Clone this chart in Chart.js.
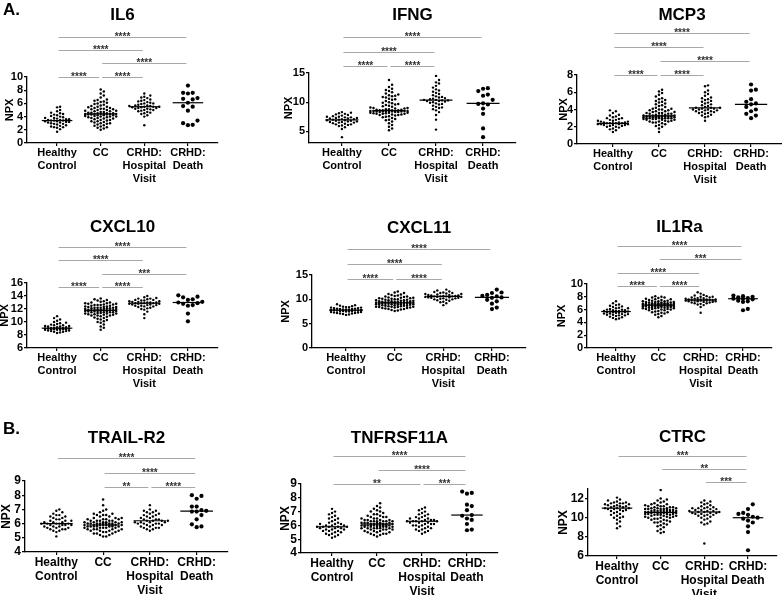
<!DOCTYPE html>
<html>
<head>
<meta charset="utf-8">
<script src="https://cdn.jsdelivr.net/npm/chart.js@4.4.1/dist/chart.umd.min.js"></script>
<style>
  body { margin: 0; background: #fff; }
  #fig { position: relative; width: 782px; height: 595px; overflow: hidden; background: #fff; }
  .tag { position: absolute; z-index: 2; font: bold 17px 'Liberation Sans', Arial, sans-serif; line-height: 20px; color: #000; }
</style>
</head>
<body>
<div id="fig">
  <div class="tag" style="left:3px;top:0px">A.</div>
  <div class="tag" style="left:3px;top:419px">B.</div>
</div>
<script>
const FONT = "'Liberation Sans', Arial, sans-serif";

// Groups on the x axis
const groupLabels = [['Healthy', 'Control'], ['CC'], ['CRHD:', 'Hospital', 'Visit'], ['CRHD:', 'Death']];

// IL6
const il6Ticks = [0, 2, 4, 6, 8, 10];
const il6Healthy = [1.7, 2.1, 2.3, 2.4, 2.4, 2.5, 2.6, 2.7, 2.8, 2.9, 2.9, 3.0, 3.1, 3.1, 3.2, 3.2, 3.3, 3.3, 3.4, 3.4, 3.4, 3.5, 3.5, 3.6, 3.6, 3.7, 3.8, 3.8, 3.9, 4.0, 4.1, 4.2, 4.3, 4.4, 4.5, 4.6, 4.8, 5.0, 5.4, 5.5];
const il6CC = [2.0, 2.2, 2.4, 2.5, 2.6, 2.7, 2.8, 2.9, 3.0, 3.0, 3.1, 3.2, 3.3, 3.4, 3.5, 3.5, 3.6, 3.7, 3.7, 3.8, 3.8, 3.9, 3.9, 4.0, 4.0, 4.0, 4.1, 4.1, 4.2, 4.2, 4.2, 4.3, 4.3, 4.3, 4.4, 4.4, 4.4, 4.4, 4.4, 4.4, 4.5, 4.5, 4.5, 4.6, 4.6, 4.7, 4.7, 4.8, 4.8, 4.9, 4.9, 5.0, 5.0, 5.1, 5.1, 5.2, 5.2, 5.3, 5.3, 5.4, 5.5, 5.5, 5.6, 5.7, 5.8, 5.9, 6.0, 6.1, 6.2, 6.3, 6.4, 6.5, 6.6, 6.9, 7.2, 7.5, 7.8, 8.1, 2.3, 3.3];
const il6Hosp = [2.7, 4.0, 4.2, 4.4, 4.5, 4.6, 4.7, 4.8, 4.9, 5.0, 5.0, 5.1, 5.2, 5.2, 5.3, 5.3, 5.4, 5.4, 5.5, 5.5, 5.5, 5.6, 5.6, 5.7, 5.7, 5.8, 5.9, 6.0, 6.0, 6.1, 6.2, 6.3, 6.4, 6.5, 6.6, 6.8, 6.9, 7.0, 7.2, 7.5];
const il6Death = [8.7, 7.6, 7.5, 7.6, 6.8, 6.6, 6.7, 6.1, 5.6, 5.5, 4.9, 3.4, 3.0, 2.7, 2.75];
const il6Sig = [[1, 2, '****', 0], [2, 3, '****', 0], [2, 4, '****', 1], [1, 3, '****', 2], [1, 4, '****', 3]];

// IFNG
const ifngTicks = [5, 10, 15];
const ifngHealthy = [4.0, 5.4, 5.7, 5.9, 6.0, 6.1, 6.2, 6.3, 6.4, 6.5, 6.5, 6.6, 6.6, 6.7, 6.7, 6.8, 6.8, 6.9, 6.9, 7.0, 7.0, 7.1, 7.1, 7.2, 7.2, 7.3, 7.3, 7.4, 7.5, 7.5, 7.6, 7.7, 7.8, 7.9, 8.0, 8.1, 8.2, 8.3, 6.2, 7.4];
const ifngCC = [5.2, 5.5, 5.8, 6.1, 6.4, 6.7, 6.9, 7.1, 7.3, 7.4, 7.5, 7.6, 7.7, 7.8, 7.8, 7.9, 7.9, 8.0, 8.0, 8.1, 8.1, 8.2, 8.2, 8.2, 8.3, 8.3, 8.3, 8.4, 8.4, 8.4, 8.4, 8.5, 8.5, 8.5, 8.5, 8.5, 8.5, 8.5, 8.6, 8.6, 8.6, 8.6, 8.7, 8.7, 8.8, 8.8, 8.9, 8.9, 9.0, 9.1, 9.2, 9.3, 9.4, 9.5, 9.6, 9.7, 9.8, 9.9, 10.0, 10.2, 10.4, 10.6, 10.8, 10.9, 11.0, 11.1, 11.2, 11.3, 11.5, 11.7, 11.9, 12.1, 12.3, 12.6, 13.0, 13.8, 7.0, 8.0, 9.0, 10.5];
const ifngHosp = [5.3, 7.0, 7.8, 8.3, 8.6, 8.8, 9.0, 9.2, 9.4, 9.6, 9.7, 9.8, 9.9, 10.0, 10.1, 10.2, 10.2, 10.3, 10.3, 10.4, 10.4, 10.5, 10.6, 10.7, 10.8, 10.9, 11.0, 11.2, 11.4, 11.6, 11.8, 12.0, 12.2, 12.5, 12.8, 13.2, 13.4, 13.8, 14.5, 9.1];
const ifngDeath = [12.4, 12.3, 11.9, 11.3, 11.1, 10.4, 9.8, 9.7, 9.6, 8.9, 8.0, 5.5, 4.0];
const ifngSig = [[1, 2, '****', 0], [2, 3, '****', 0], [1, 3, '****', 1], [1, 4, '****', 2]];

// MCP3
const mcp3Ticks = [0, 2, 4, 6, 8];
const mcp3Healthy = [1.4, 1.6, 1.7, 1.8, 1.9, 2.0, 2.0, 2.1, 2.1, 2.2, 2.2, 2.2, 2.3, 2.3, 2.3, 2.3, 2.4, 2.4, 2.4, 2.4, 2.4, 2.5, 2.5, 2.5, 2.6, 2.6, 2.7, 2.7, 2.8, 2.8, 2.9, 3.0, 3.0, 3.1, 3.2, 3.3, 3.4, 3.6, 3.8, 3.9];
const mcp3CC = [1.4, 1.8, 2.0, 2.2, 2.3, 2.4, 2.5, 2.5, 2.6, 2.6, 2.7, 2.7, 2.8, 2.8, 2.8, 2.9, 2.9, 2.9, 3.0, 3.0, 3.0, 3.0, 3.1, 3.1, 3.1, 3.1, 3.1, 3.2, 3.2, 3.2, 3.2, 3.2, 3.2, 3.2, 3.2, 3.3, 3.3, 3.3, 3.3, 3.3, 3.4, 3.4, 3.0, 3.0, 3.5, 3.5, 3.5, 3.6, 3.6, 3.6, 3.7, 3.7, 3.8, 3.8, 3.9, 3.9, 4.0, 4.0, 4.1, 4.1, 4.2, 4.3, 4.4, 4.5, 4.6, 4.7, 4.8, 4.9, 5.0, 5.1, 5.2, 5.3, 5.5, 5.7, 5.9, 6.1, 6.3, 2.1, 2.6, 3.0];
const mcp3Hosp = [2.7, 3.2, 3.3, 3.4, 3.5, 3.6, 3.6, 3.7, 3.7, 3.8, 3.8, 3.9, 3.9, 4.0, 4.0, 4.0, 4.1, 4.1, 4.2, 4.2, 4.2, 4.3, 4.4, 4.5, 4.6, 4.7, 4.8, 4.9, 5.0, 5.1, 5.2, 5.3, 5.4, 5.6, 5.8, 6.0, 6.2, 6.7, 6.8, 3.1];
const mcp3Death = [6.9, 6.3, 6.2, 5.2, 4.9, 4.7, 4.6, 4.3, 4.0, 3.8, 3.5, 3.3, 3.0];
const mcp3Sig = [[1, 2, '****', 0], [2, 3, '****', 0], [2, 4, '****', 1], [1, 3, '****', 2], [1, 4, '****', 3]];

// CXCL10
const cxcl10Ticks = [6, 8, 10, 12, 14, 16];
const cxcl10Healthy = [8.3, 8.4, 8.5, 8.5, 8.6, 8.6, 8.7, 8.7, 8.8, 8.8, 8.8, 8.9, 8.9, 8.9, 8.9, 9.0, 9.0, 9.0, 9.0, 9.0, 9.1, 9.1, 9.1, 9.2, 9.2, 9.3, 9.3, 9.4, 9.4, 9.5, 9.6, 9.7, 9.8, 9.9, 10.0, 10.2, 10.4, 10.6, 10.9, 9.5];
const cxcl10CC = [8.8, 9.3, 9.6, 9.9, 10.1, 10.3, 10.5, 10.6, 10.7, 10.8, 10.9, 11.0, 11.0, 11.1, 11.1, 11.2, 11.2, 11.3, 11.3, 11.4, 11.4, 11.5, 11.5, 11.5, 11.6, 11.6, 11.6, 11.7, 11.7, 11.7, 11.7, 11.8, 11.8, 11.8, 11.8, 11.8, 11.9, 11.9, 11.9, 12.0, 12.0, 12.0, 12.1, 12.1, 12.1, 12.2, 12.2, 12.2, 12.3, 12.3, 12.3, 12.4, 12.4, 12.5, 12.5, 12.6, 12.6, 12.7, 12.7, 12.8, 12.8, 12.9, 12.9, 13.0, 13.0, 13.1, 13.2, 13.3, 13.4, 13.6, 9.1, 10.0, 10.4, 11.0, 11.3, 11.9, 12.2, 12.6, 13.5, 11.5];
const cxcl10Hosp = [10.6, 11.6, 11.9, 12.1, 12.2, 12.3, 12.4, 12.5, 12.5, 12.6, 12.6, 12.7, 12.7, 12.8, 12.8, 12.8, 12.9, 12.9, 12.9, 12.9, 13.0, 13.0, 13.0, 13.1, 13.1, 13.2, 13.2, 13.3, 13.3, 13.4, 13.4, 13.5, 13.6, 13.7, 13.8, 14.0, 12.0, 12.4, 13.6, 11.2];
const cxcl10Death = [14.1, 13.9, 13.8, 13.5, 13.4, 13.1, 13.0, 12.9, 12.8, 12.6, 12.5, 11.3, 10.1];
const cxcl10Sig = [[1, 2, '****', 0], [2, 3, '****', 0], [2, 4, '***', 1], [1, 3, '****', 2], [1, 4, '****', 3]];

// CXCL11
const cxcl11Ticks = [0, 5, 10, 15];
const cxcl11Healthy = [6.8, 6.9, 7.0, 7.1, 7.1, 7.2, 7.3, 7.3, 7.4, 7.4, 7.5, 7.5, 7.6, 7.6, 7.6, 7.7, 7.7, 7.7, 7.8, 7.8, 7.8, 7.9, 7.9, 8.0, 8.0, 8.1, 8.1, 8.2, 8.2, 8.3, 8.3, 8.4, 8.5, 8.6, 8.7, 8.8, 9.0, 7.2, 7.9, 8.4];
const cxcl11CC = [7.6, 7.7, 7.8, 7.9, 8.0, 8.1, 8.2, 8.3, 8.3, 8.4, 8.4, 8.5, 8.5, 8.6, 8.6, 8.7, 8.7, 8.8, 8.8, 8.9, 8.9, 8.9, 9.0, 9.0, 9.0, 9.1, 9.1, 9.1, 9.1, 9.2, 9.2, 9.2, 9.2, 9.2, 9.3, 9.3, 9.3, 9.3, 9.4, 9.4, 9.4, 9.5, 9.5, 9.5, 9.6, 9.6, 9.6, 9.7, 9.7, 9.8, 9.8, 9.9, 9.9, 10.0, 10.0, 10.1, 10.1, 10.2, 10.2, 10.3, 10.4, 10.5, 10.6, 10.7, 10.8, 10.9, 11.0, 11.1, 11.3, 11.6, 8.0, 8.2, 8.5, 8.7, 9.0, 9.4, 9.8, 10.3, 10.6, 11.4];
const cxcl11Hosp = [8.8, 9.2, 9.5, 9.7, 9.8, 9.9, 10.0, 10.1, 10.2, 10.2, 10.3, 10.3, 10.4, 10.4, 10.5, 10.5, 10.5, 10.6, 10.6, 10.6, 10.6, 10.7, 10.7, 10.8, 10.8, 10.9, 10.9, 11.0, 11.1, 11.1, 11.2, 11.3, 11.4, 11.5, 11.6, 11.8, 12.0, 9.4, 10.0, 11.3];
const cxcl11Death = [12.0, 11.4, 11.3, 10.9, 10.7, 10.6, 10.4, 10.3, 9.9, 9.6, 9.1, 8.3, 8.0];
const cxcl11Sig = [[1, 2, '****', 0], [2, 3, '****', 0], [1, 3, '****', 1], [1, 4, '****', 2]];

// IL1Ra
const il1raTicks = [0, 2, 4, 6, 8, 10];
const il1raHealthy = [4.5, 4.6, 4.7, 4.8, 4.9, 5.0, 5.1, 5.2, 5.2, 5.3, 5.3, 5.4, 5.4, 5.5, 5.5, 5.6, 5.6, 5.6, 5.7, 5.7, 5.7, 5.8, 5.8, 5.9, 5.9, 6.0, 6.0, 6.1, 6.2, 6.3, 6.4, 6.5, 6.6, 6.7, 6.8, 7.0, 7.3, 5.1, 6.2, 5.8];
const il1raCC = [4.8, 5.0, 5.2, 5.4, 5.5, 5.6, 5.7, 5.8, 5.9, 6.0, 6.0, 6.1, 6.1, 6.2, 6.2, 6.3, 6.3, 6.3, 6.4, 6.4, 6.4, 6.5, 6.5, 6.5, 6.5, 6.6, 6.6, 6.6, 6.6, 6.6, 6.7, 6.7, 6.7, 6.7, 6.7, 6.7, 6.8, 6.8, 6.8, 6.8, 6.8, 6.9, 6.9, 6.9, 6.9, 7.0, 7.0, 7.0, 7.1, 7.1, 7.1, 7.2, 7.2, 7.3, 7.3, 7.4, 7.4, 7.5, 7.5, 7.6, 7.7, 7.8, 7.9, 8.0, 8.1, 5.3, 5.6, 5.9, 6.2, 6.4, 6.6, 6.8, 7.0, 7.2, 7.6, 6.1, 6.5, 6.9, 7.3, 7.9];
const il1raHosp = [5.5, 6.4, 6.7, 6.9, 7.0, 7.1, 7.1, 7.2, 7.2, 7.3, 7.3, 7.3, 7.4, 7.4, 7.4, 7.4, 7.5, 7.5, 7.5, 7.5, 7.5, 7.6, 7.6, 7.6, 7.7, 7.7, 7.8, 7.8, 7.9, 7.9, 8.0, 8.1, 8.2, 8.3, 8.5, 8.7, 6.8, 7.0, 7.6, 8.0];
const il1raDeath = [8.2, 8.1, 8.0, 7.9, 7.8, 7.7, 7.7, 7.6, 7.4, 7.3, 7.2, 6.1, 5.9];
const il1raSig = [[1, 2, '****', 0], [2, 3, '****', 0], [1, 3, '****', 1], [2, 4, '***', 2], [1, 4, '****', 3]];

// TRAIL-R2
const trailTicks = [4, 5, 6, 7, 8, 9];
const trailHealthy = [5.1, 5.4, 5.5, 5.5, 5.6, 5.6, 5.7, 5.7, 5.7, 5.8, 5.8, 5.8, 5.9, 5.9, 5.9, 5.9, 6.0, 6.0, 6.0, 6.0, 6.0, 6.1, 6.1, 6.1, 6.2, 6.2, 6.3, 6.3, 6.4, 6.4, 6.5, 6.5, 6.6, 6.6, 6.7, 6.8, 6.9, 7.0, 5.6, 6.2];
const trailCC = [5.1, 5.1, 5.2, 5.2, 5.3, 5.3, 5.4, 5.4, 5.5, 5.5, 5.5, 5.6, 5.6, 5.6, 5.7, 5.7, 5.7, 5.7, 5.8, 5.8, 5.8, 5.8, 5.8, 5.9, 5.9, 5.9, 5.9, 5.9, 5.9, 5.9, 5.9, 6.0, 6.0, 6.0, 6.0, 6.0, 6.0, 6.0, 6.1, 6.1, 6.1, 6.1, 6.1, 6.2, 6.2, 6.2, 6.2, 6.3, 6.3, 6.3, 6.4, 6.4, 6.5, 6.5, 6.6, 6.6, 6.7, 6.7, 6.8, 6.9, 7.0, 7.3, 7.7, 5.4, 5.6, 5.8, 6.0, 6.2, 6.4, 5.5, 5.7, 5.9, 6.1, 6.3, 6.6, 5.6, 5.8, 6.0, 5.3, 5.9];
const trailHosp = [5.5, 5.6, 5.6, 5.7, 5.7, 5.8, 5.8, 5.9, 5.9, 5.9, 6.0, 6.0, 6.0, 6.1, 6.1, 6.1, 6.1, 6.2, 6.2, 6.2, 6.2, 6.3, 6.3, 6.3, 6.4, 6.4, 6.5, 6.5, 6.6, 6.6, 6.7, 6.7, 6.8, 6.8, 6.9, 6.9, 7.0, 7.3, 6.0, 5.7];
const trailDeath = [8.0, 7.95, 7.75, 7.2, 7.2, 6.95, 6.9, 6.85, 6.85, 6.6, 6.3, 5.95, 5.8, 5.75];
const trailSig = [[2, 3, '**', 0], [3, 4, '****', 0], [2, 4, '****', 1], [1, 4, '****', 2]];

// TNFRSF11A
const tnfTicks = [4, 5, 6, 7, 8, 9];
const tnfHealthy = [5.1, 5.2, 5.3, 5.4, 5.4, 5.5, 5.5, 5.6, 5.6, 5.7, 5.7, 5.7, 5.8, 5.8, 5.8, 5.9, 5.9, 5.9, 5.9, 5.9, 6.0, 6.0, 6.0, 6.1, 6.1, 6.2, 6.2, 6.3, 6.4, 6.5, 6.6, 6.7, 6.8, 6.9, 7.0, 7.2, 5.6, 6.1, 6.5, 5.3];
const tnfCC = [5.2, 5.3, 5.3, 5.4, 5.4, 5.5, 5.5, 5.6, 5.6, 5.7, 5.7, 5.7, 5.8, 5.8, 5.8, 5.8, 5.9, 5.9, 5.9, 5.9, 5.9, 6.0, 6.0, 6.0, 6.0, 6.0, 6.0, 6.0, 6.1, 6.1, 6.1, 6.1, 6.1, 6.2, 6.2, 6.2, 6.2, 6.3, 6.3, 6.3, 6.3, 6.4, 6.4, 6.4, 6.5, 6.5, 6.6, 6.6, 6.7, 6.7, 6.8, 6.9, 7.0, 7.1, 7.2, 7.4, 7.6, 5.5, 5.7, 5.9, 6.1, 6.3, 6.5, 6.0, 5.8, 6.2, 6.4, 6.8, 7.0, 5.6, 5.4, 6.0, 6.1, 6.3, 6.6, 5.9, 6.2, 7.3, 5.8, 6.0];
const tnfHosp = [5.4, 5.5, 5.6, 5.7, 5.7, 5.8, 5.8, 5.9, 5.9, 6.0, 6.0, 6.1, 6.1, 6.1, 6.2, 6.2, 6.2, 6.3, 6.3, 6.3, 6.3, 6.4, 6.4, 6.4, 6.5, 6.5, 6.6, 6.6, 6.7, 6.8, 6.9, 7.0, 7.1, 7.2, 7.3, 6.0, 6.5, 5.6, 6.8, 6.3];
const tnfDeath = [8.45, 8.35, 8.3, 7.5, 7.4, 7.1, 6.75, 6.7, 6.5, 6.4, 6.1, 5.7, 5.65];
const tnfSig = [[1, 3, '**', 0], [3, 4, '***', 0], [2, 4, '****', 1], [1, 4, '****', 2]];

// CTRC
const ctrcTicks = [6, 8, 10, 12];
const ctrcHealthy = [8.9, 9.1, 9.4, 9.6, 9.8, 10.0, 10.1, 10.2, 10.3, 10.4, 10.5, 10.6, 10.7, 10.7, 10.8, 10.8, 10.9, 10.9, 11.0, 11.0, 11.0, 11.1, 11.1, 11.2, 11.2, 11.3, 11.3, 11.4, 11.4, 11.5, 11.5, 11.6, 11.6, 11.7, 11.8, 11.9, 12.1, 10.0, 11.2, 11.5];
const ctrcCC = [8.4, 8.6, 8.8, 9.0, 9.2, 9.3, 9.4, 9.5, 9.6, 9.7, 9.8, 9.9, 9.9, 10.0, 10.0, 10.1, 10.1, 10.2, 10.2, 10.3, 10.3, 10.3, 10.4, 10.4, 10.4, 10.5, 10.5, 10.5, 10.5, 10.6, 10.6, 10.6, 10.6, 10.6, 10.7, 10.7, 10.7, 10.7, 10.8, 10.8, 10.8, 10.9, 10.9, 10.9, 11.0, 11.0, 11.0, 11.1, 11.1, 11.2, 11.2, 11.3, 11.3, 11.4, 11.4, 11.5, 11.6, 11.7, 11.8, 11.9, 12.0, 12.9, 8.5, 9.1, 9.6, 10.0, 10.2, 10.4, 10.6, 10.8, 11.0, 11.2, 9.8, 10.3, 10.5, 10.7, 10.9, 11.1, 9.5, 10.1];
const ctrcHosp = [7.3, 9.3, 9.4, 9.6, 9.8, 9.9, 10.0, 10.1, 10.2, 10.3, 10.3, 10.4, 10.4, 10.5, 10.5, 10.6, 10.6, 10.6, 10.7, 10.7, 10.7, 10.8, 10.8, 10.9, 10.9, 11.0, 11.0, 11.1, 11.1, 11.2, 11.3, 11.4, 11.5, 11.6, 11.7, 11.8, 10.2, 10.5, 11.0, 9.5];
const ctrcDeath = [11.4, 10.9, 10.5, 10.4, 10.3, 10.1, 10.0, 9.9, 9.7, 9.5, 9.1, 8.5, 6.6];
const ctrcSig = [[3, 4, '***', 0], [2, 4, '**', 1], [1, 4, '***', 2]];

// panel placement (page pixels)
const panels = [
  { title: 'IL6', groups: [il6Healthy, il6CC, il6Hosp, il6Death], ticks: il6Ticks, min: 0, max: 10, sig: il6Sig,
    left: 0, titleY: 15, aL: 27, aR: 218, aT: 77, aB: 143, pad: 0.69, npxX: 10, levels: [77, 63, 50, 37] },
  { title: 'IFNG', groups: [ifngHealthy, ifngCC, ifngHosp, ifngDeath], ticks: ifngTicks, min: 3, max: 15, sig: ifngSig,
    left: 260, titleY: 15, aL: 309, aR: 516, aT: 73, aB: 143, pad: 0.70, npxX: 289, levels: [66, 52, 37] },
  { title: 'MCP3', groups: [mcp3Healthy, mcp3CC, mcp3Hosp, mcp3Death], ticks: mcp3Ticks, min: 0, max: 8, sig: mcp3Sig,
    left: 520, titleY: 15, aL: 577, aR: 787, aT: 75, aB: 144, pad: 0.78, npxX: 564, levels: [75, 61, 47, 33] },
  { title: 'CXCL10', groups: [cxcl10Healthy, cxcl10CC, cxcl10Hosp, cxcl10Death], ticks: cxcl10Ticks, min: 6, max: 16, sig: cxcl10Sig,
    left: 0, titleY: 227, aL: 27, aR: 218, aT: 283, aB: 348, pad: 0.69, npxX: 5, levels: [287, 274, 260, 247] },
  { title: 'CXCL11', groups: [cxcl11Healthy, cxcl11CC, cxcl11Hosp, cxcl11Death], ticks: cxcl11Ticks, min: 0, max: 15, sig: cxcl11Sig,
    left: 260, titleY: 228, aL: 312, aR: 526, aT: 275, aB: 348, pad: 0.70, npxX: 286, levels: [279, 264, 249] },
  { title: 'IL1Ra', groups: [il1raHealthy, il1raCC, il1raHosp, il1raDeath], ticks: il1raTicks, min: 0, max: 10, sig: il1raSig,
    left: 520, titleY: 227, aL: 587, aR: 772, aT: 284, aB: 348, pad: 0.685, npxX: 562, levels: [286, 273, 259, 246] },
  { title: 'TRAIL-R2', groups: [trailHealthy, trailCC, trailHosp, trailDeath], ticks: trailTicks, min: 4, max: 9, sig: trailSig,
    left: 0, titleY: 438, aL: 25, aR: 228, aT: 481, aB: 552, pad: 0.67, npxX: 7, levels: [487, 473, 458], big: true },
  { title: 'TNFRSF11A', groups: [tnfHealthy, tnfCC, tnfHosp, tnfDeath], ticks: tnfTicks, min: 4, max: 9, sig: tnfSig,
    left: 260, titleY: 438, aL: 301, aR: 498, aT: 484, aB: 553, pad: 0.69, npxX: 286, levels: [484, 470, 456], big: true },
  { title: 'CTRC', groups: [ctrcHealthy, ctrcCC, ctrcHosp, ctrcDeath], ticks: ctrcTicks, min: 6, max: 13, sig: ctrcSig,
    left: 520, titleY: 437, aL: 588, aR: 777, aT: 489, aB: 556, pad: 0.664, npxX: 564, levels: [482, 469, 456], big: true }
];

Chart.defaults.font.family = FONT;
Chart.defaults.color = '#000';

function median(a) {
  const s = [...a].sort((p, q) => p - q);
  const m = s.length >> 1;
  return s.length % 2 ? s[m] : (s[m - 1] + s[m]) / 2;
}

// spread points sideways (pixel space), kept within a max half-width;
// when no free slot is left the least crowded one is used
function swarm(chart, g, values, r, halfWidth) {
  const xs = chart.scales.x, ys = chart.scales.y;
  const unit = xs.getPixelForValue(2) - xs.getPixelForValue(1);
  const step = r * 2 + 0.6;
  const slots = Math.floor(halfWidth * unit / step);
  const placed = [];
  const out = new Array(values.length);
  const order = values.map((v, i) => i).sort((a, b) => values[a] - values[b]);
  order.forEach(i => {
    const py = ys.getPixelForValue(values[i]);
    let best = 0, bestGap = -1;
    for (let k = 0; k <= slots * 2; k++) {
      const off = k === 0 ? 0 : (k % 2 ? 1 : -1) * Math.ceil(k / 2) * step;
      let gap = Infinity;
      placed.forEach(p => { gap = Math.min(gap, Math.hypot(p.x - off, p.y - py)); });
      if (gap >= step) { best = off; bestGap = gap; break; }
      if (gap > bestGap) { best = off; bestGap = gap; }
    }
    placed.push({ x: best, y: py });
    out[i] = { x: g + best / unit, y: values[i] };
  });
  return out;
}

function extras(p, top) {
  return {
    id: 'extras',
    afterDraw(chart) {
      const { ctx, chartArea, scales: { x } } = chart;
      ctx.save();
      ctx.fillStyle = '#000';
      ctx.textAlign = 'center';
      ctx.textBaseline = 'middle';
      ctx.font = `bold 17px ${FONT}`;
      ctx.fillText(p.title, (chartArea.left + chartArea.right) / 2, p.titleY - top);
      p.sig.forEach(([a, b, stars, lvl]) => {
        const y = Math.round(p.levels[lvl] - top) + 0.5;
        const x1 = x.getPixelForValue(a) + 1.5;
        const x2 = x.getPixelForValue(b) - 1.5;
        ctx.strokeStyle = '#a8a8a8';
        ctx.lineWidth = 1;
        ctx.beginPath();
        ctx.moveTo(x1, y);
        ctx.lineTo(x2, y);
        ctx.stroke();
        ctx.fillStyle = '#333';
        ctx.font = `bold 10px ${FONT}`;
        ctx.textBaseline = 'alphabetic';
        ctx.fillText(stars, (x1 + x2) / 2, y + 2.5);
      });
      ctx.restore();
    }
  };
}

const fig = document.getElementById('fig');

panels.forEach(p => {
  const top = p.titleY - 14;
  const W = p.aR + 4 - p.left;
  const H = p.aB + 50 - top;
  const canvas = document.createElement('canvas');
  canvas.width = W;
  canvas.height = H;
  canvas.style.cssText = `position:absolute;left:${p.left}px;top:${top}px;width:${W}px;height:${H}px`;
  fig.appendChild(canvas);

  const fs = p.big ? 12 : 11;
  const radii = [1.2, 1.25, 1.2, 2.1];
  const spread = [0.34, 0.4, 0.4, 0.34];

  const dots = p.groups.map((vals, g) => ({
    data: vals.map(v => ({ x: g + 1, y: v })),
    pointRadius: radii[g],
    pointHoverRadius: radii[g],
    backgroundColor: '#000',
    borderWidth: 0,
    order: 1
  }));
  const medians = p.groups.map((vals, g) => {
    const m = median(vals);
    return {
      data: [{ x: g + 1 - 0.35, y: m }, { x: g + 1 + 0.35, y: m }],
      showLine: true,
      borderColor: '#000',
      borderWidth: 1.2,
      pointRadius: 0,
      order: 0
    };
  });

  const axisGrid = { display: true, drawOnChartArea: false, drawTicks: true, tickLength: 3, color: '#000', lineWidth: 1.2 };
  const axisBorder = { display: true, color: '#000', width: 1.3 };

  const chart = new Chart(canvas, {
    type: 'scatter',
    data: { datasets: dots.concat(medians) },
    options: {
      responsive: false,
      animation: false,
      layout: { padding: { top: p.aT - top, right: 4, left: 0, bottom: 0 } },
      plugins: { legend: { display: false }, tooltip: { enabled: false } },
      scales: {
        x: {
          type: 'linear',
          min: 1 - p.pad,
          max: 4 + p.pad,
          afterBuildTicks: s => { s.ticks = [1, 2, 3, 4].map(v => ({ value: v })); },
          afterFit: s => { s.height = H - (p.aB - top); },
          grid: axisGrid,
          border: axisBorder,
          ticks: {
            autoSkip: false,
            maxRotation: 0,
            padding: 1,
            color: '#000',
            font: { weight: 'bold', size: fs, lineHeight: 1.15 },
            callback: v => groupLabels[v - 1]
          }
        },
        y: {
          min: p.min,
          max: p.max,
          afterBuildTicks: s => { s.ticks = p.ticks.map(v => ({ value: v })); },
          afterFit: s => { s.width = p.aL - p.left; },
          grid: axisGrid,
          border: axisBorder,
          ticks: { autoSkip: false, padding: 1, color: '#000', font: { weight: 'bold', size: fs } },
          title: {
            display: true,
            text: 'NPX',
            color: '#000',
            font: { weight: 'bold', size: fs, lineHeight: 1.2 },
            padding: { top: p.npxX - p.left - fs * 0.6, bottom: 0 }
          }
        }
      }
    },
    plugins: [extras(p, top)]
  });

  p.groups.forEach((vals, g) => {
    chart.data.datasets[g].data = swarm(chart, g + 1, vals, radii[g], spread[g]);
  });
  chart.update('none');
});
</script>
</body>
</html>
